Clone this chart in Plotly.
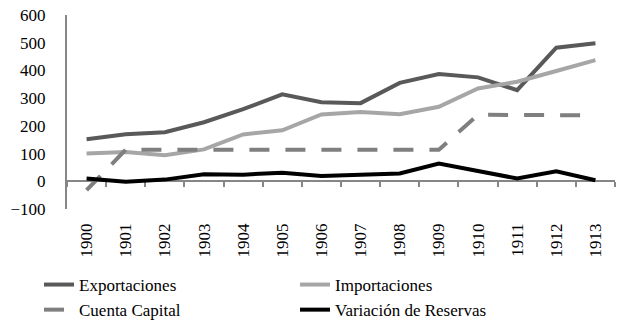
import plotly.graph_objects as go

years = [str(y) for y in range(1900, 1914)]

exportaciones = [152, 170, 177, 213, 260, 314, 285, 282, 355, 387, 375, 329, 482, 498]
importaciones = [100, 106, 94, 115, 169, 184, 241, 250, 242, 269, 335, 359, 398, 437]
cuenta_capital = [-32, 114, 114, 114, 114, 114, 114, 114, 114, 114, 240, 240, 240, 238]
variacion_reservas = [10, -2, 6, 25, 24, 31, 19, 22, 28, 64, 37, 10, 36, 4]

y_ticks = [-100, 0, 100, 200, 300, 400, 500, 600]
y_min, y_max = -100, 600

font_family = "Liberation Serif"
axis_grey = "#868686"

series = [
    ("Exportaciones", exportaciones, "#595959", "solid"),
    ("Importaciones", importaciones, "#a6a6a6", "solid"),
    ("Cuenta Capital", cuenta_capital, "#7f7f7f", "20px,16px"),
    ("Variación de Reservas", variacion_reservas, "#000000", "solid"),
]

fig = go.Figure()

for name, vals, color, dash in series:
    fig.add_trace(go.Scatter(
        x=years, y=vals, name=name, mode="lines",
        line=dict(color=color, width=4, dash=dash),
    ))

# category labels along the bottom edge
fig.add_trace(go.Scatter(
    x=years, y=[0] * len(years), xaxis="x2", mode="lines",
    line=dict(width=0), showlegend=False, hoverinfo="skip",
))

zero_pos = (0 - y_min) / (y_max - y_min)
x_range = [-0.5, len(years) - 0.5]

fig.update_layout(
    width=637, height=325,
    margin=dict(l=67, r=22, t=15, b=116, autoexpand=False),
    paper_bgcolor="white", plot_bgcolor="white",
    font=dict(family=font_family, size=17, color="#000000"),
    # main category axis sits on the zero line, ticks between categories
    xaxis=dict(
        type="category", range=x_range, anchor="free", position=zero_pos,
        showline=True, linecolor=axis_grey, linewidth=2,
        ticks="outside", tickson="boundaries", ticklen=5, tickwidth=2,
        tickcolor=axis_grey, showticklabels=False, showgrid=False,
        zeroline=False, layer="below traces",
    ),
    xaxis2=dict(
        type="category", range=x_range, overlaying="x", anchor="y",
        side="bottom", showline=False, showgrid=False, zeroline=False,
        ticks="", tickangle=-90, tickfont=dict(size=17),
        ticklabelstandoff=10,
    ),
    yaxis=dict(
        range=[y_min, y_max], tickvals=y_ticks, showgrid=False,
        zeroline=False, showline=True, linecolor=axis_grey, linewidth=2,
        ticks="", tickfont=dict(size=17), ticklabelstandoff=16,
        layer="below traces",
    ),
    legend=dict(
        orientation="h", xref="container", yref="container",
        x=39 / 637, xanchor="left", y=(325 - 267) / 325, yanchor="top",
        font=dict(size=17), entrywidth=211, tracegroupgap=0,
    ),
)

fig.write_html("out.html")
